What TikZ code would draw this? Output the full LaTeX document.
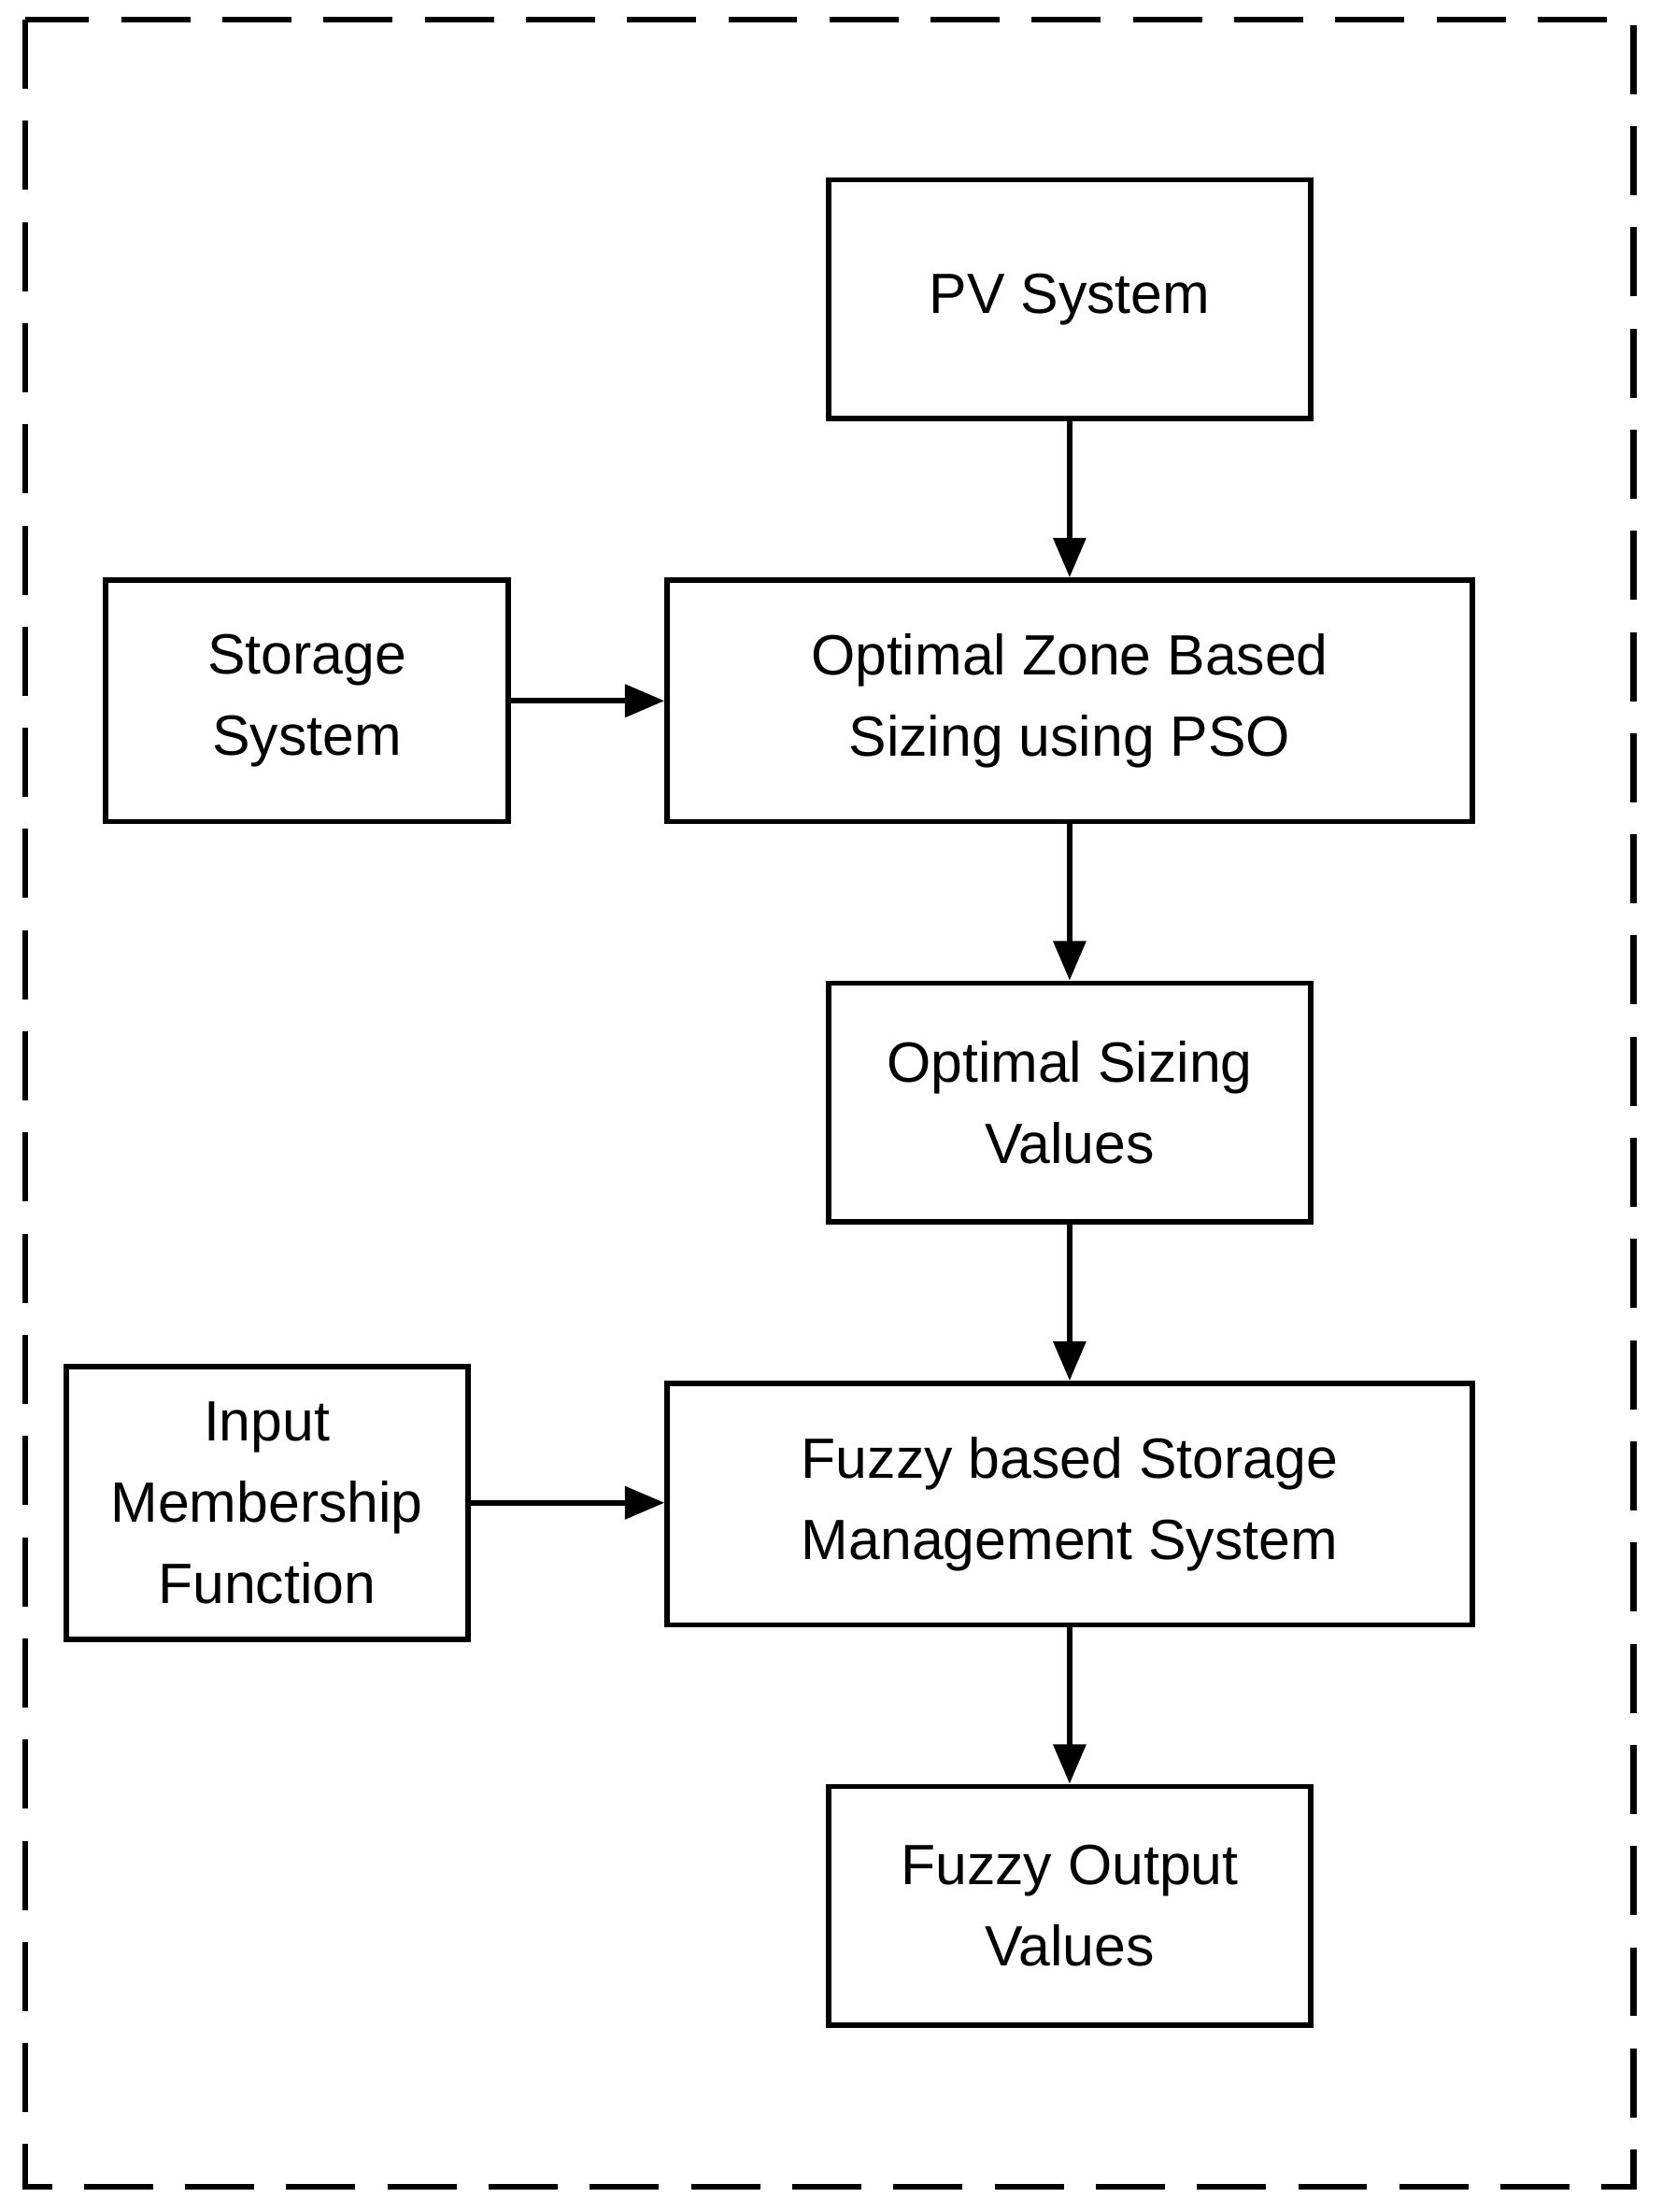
\documentclass[tikz,border=0pt]{standalone}
\usepackage{fontspec}
\setmainfont{Liberation Sans}
\usetikzlibrary{arrows.meta}
\begin{document}
\begin{tikzpicture}[x=0.02cm,y=-0.02cm,
  box/.style={draw,line width=2.2pt,align=center,inner sep=0pt,font=\fontsize{23}{33}\selectfont},
  arr/.style={line width=2.2pt,-{Triangle[length=16pt,width=13pt]}}]
\useasboundingbox (0,0) rectangle (1183,1575);
\draw[line width=2.4pt,dash pattern=on 28pt off 13pt] (18,14) rectangle (1163,1557);
\node[box,minimum width=343*0.02cm,minimum height=170*0.02cm] (pv) at (761.5,213) {PV System};
\node[box,minimum width=573*0.02cm,minimum height=172*0.02cm] (oz) at (761.5,499) {Optimal Zone Based\\Sizing using PSO};
\node[box,minimum width=287*0.02cm,minimum height=172*0.02cm] (st) at (218.5,499) {Storage\\System};
\node[box,minimum width=343*0.02cm,minimum height=170*0.02cm] (osv) at (761.5,785) {Optimal Sizing\\Values};
\node[box,minimum width=573*0.02cm,minimum height=172*0.02cm] (fz) at (761.5,1071) {Fuzzy based Storage\\Management System};
\node[box,minimum width=286*0.02cm,minimum height=194*0.02cm] (in) at (190,1070) {Input\\Membership\\Function};
\node[box,minimum width=343*0.02cm,minimum height=170*0.02cm] (fo) at (761.5,1357) {Fuzzy Output\\Values};
\draw[arr] (pv) -- (oz);
\draw[arr] (st) -- (oz);
\draw[arr] (oz) -- (osv);
\draw[arr] (osv) -- (fz);
\draw[arr] (in) -- (in -| fz.west);
\draw[arr] (fz) -- (fo);
\end{tikzpicture}
\end{document}
